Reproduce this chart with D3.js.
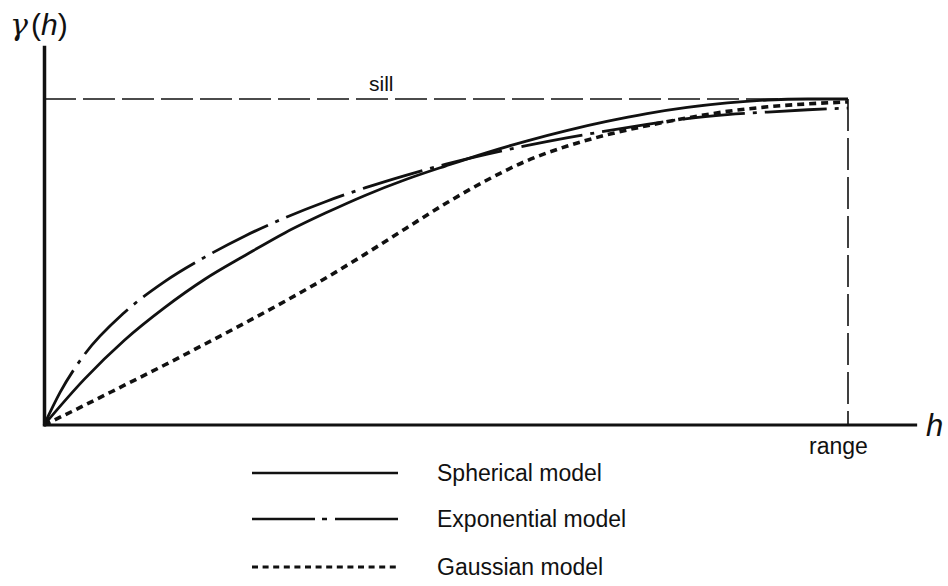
<!DOCTYPE html>
<html>
<head>
<meta charset="utf-8">
<script src="https://cdn.jsdelivr.net/npm/d3@7"></script>
<style>
  html, body { margin: 0; padding: 0; background: #fff; }
  svg { display: block; }
  text { font-family: "Liberation Sans", Arial, Helvetica, sans-serif; fill: #111; }
</style>
</head>
<body>
<svg id="chart" width="948" height="586"></svg>
<script>
// Lag distance h as a fraction of the range, semivariance as a fraction of the sill
const sphericalH = [0, 0.05, 0.10, 0.15, 0.20, 0.25, 0.30, 0.35, 0.40, 0.45, 0.50, 0.55, 0.60, 0.65, 0.70, 0.75, 0.80, 0.85, 0.90, 0.95, 1.0];
const sphericalG = [0, 0.14, 0.26, 0.36, 0.447, 0.52, 0.59, 0.65, 0.705, 0.753, 0.795, 0.835, 0.871, 0.903, 0.931, 0.955, 0.974, 0.988, 0.997, 1.0, 1.0];

const exponentialH = [0, 0.02, 0.05, 0.10, 0.15, 0.20, 0.25, 0.30, 0.35, 0.40, 0.45, 0.50, 0.55, 0.60, 0.65, 0.70, 0.75, 0.80, 0.85, 0.90, 0.95, 1.0];
const exponentialG = [0, 0.10, 0.215, 0.345, 0.44, 0.515, 0.58, 0.636, 0.685, 0.728, 0.766, 0.80, 0.83, 0.857, 0.881, 0.902, 0.922, 0.94, 0.952, 0.96, 0.967, 0.972];

const gaussianH = [0, 0.05, 0.10, 0.15, 0.20, 0.25, 0.30, 0.35, 0.40, 0.45, 0.50, 0.55, 0.60, 0.65, 0.70, 0.75, 0.80, 0.85, 0.90, 0.95, 1.0];
const gaussianG = [0, 0.06, 0.122, 0.184, 0.248, 0.313, 0.38, 0.45, 0.525, 0.603, 0.68, 0.75, 0.81, 0.855, 0.89, 0.918, 0.942, 0.962, 0.976, 0.985, 0.991];

const modelNames = ["Spherical model", "Exponential model", "Gaussian model"];
const axisLabels = { y: "\u03B3", x: "h", sill: "sill", range: "range" };

const svg = d3.select("#chart");

const x = d3.scaleLinear().domain([0, 1]).range([44, 848]);
const y = d3.scaleLinear().domain([0, 1]).range([425, 99]);

const styles = [
  { dash: null, width: 2.8 },
  { dash: "62,8,4,8", width: 2.8 },
  { dash: "7,5", width: 3.6 }
];

const series = [
  d3.zip(sphericalH, sphericalG),
  d3.zip(exponentialH, exponentialG),
  d3.zip(gaussianH, gaussianG)
];

const line = d3.line()
  .x(d => x(d[0]))
  .y(d => y(d[1]))
  .curve(d3.curveMonotoneX);

// Sill and range reference lines
svg.append("line")
  .attr("x1", x(0)).attr("x2", x(1))
  .attr("y1", y(1)).attr("y2", y(1))
  .attr("stroke", "#111").attr("stroke-width", 1.6)
  .attr("stroke-dasharray", "32,7");
svg.append("line")
  .attr("x1", x(1)).attr("x2", x(1))
  .attr("y1", y(1)).attr("y2", y(0))
  .attr("stroke", "#111").attr("stroke-width", 1.6)
  .attr("stroke-dasharray", "32,7");

// Model curves
series.forEach((pts, i) => {
  svg.append("path")
    .datum(pts)
    .attr("d", line)
    .attr("fill", "none")
    .attr("stroke", "#111")
    .attr("stroke-width", styles[i].width)
    .attr("stroke-dasharray", styles[i].dash)
    .attr("stroke-linecap", "butt");
});

// Axes
svg.append("line")
  .attr("x1", x(0)).attr("x2", x(1.086))
  .attr("y1", y(0)).attr("y2", y(0))
  .attr("stroke", "#111").attr("stroke-width", 3);
svg.append("line")
  .attr("x1", x(0) + 0.5).attr("x2", x(0) + 0.5)
  .attr("y1", y(0) + 1.5).attr("y2", y(1.163))
  .attr("stroke", "#111").attr("stroke-width", 3.5);

// Axis labels
const yl = svg.append("text")
  .attr("x", 10).attr("y", 35)
  .style("font-size", "30px");
yl.append("tspan").text(axisLabels.y).style("font-family", "'DejaVu Serif', serif").style("font-style", "italic");
yl.append("tspan").text("(").attr("dx", 3);
yl.append("tspan").text(axisLabels.x).style("font-style", "italic");
yl.append("tspan").text(")");

svg.append("text")
  .attr("x", 926).attr("y", 436)
  .style("font-size", "31px").style("font-style", "italic")
  .text(axisLabels.x);

svg.append("text")
  .attr("x", x(1) - 39).attr("y", 454)
  .style("font-size", "23px")
  .text(axisLabels.range);

svg.append("text")
  .attr("x", 369).attr("y", 91)
  .style("font-size", "21px")
  .text(axisLabels.sill);

// Legend
const legendY = [473, 519, 567];
modelNames.forEach((name, i) => {
  svg.append("line")
    .attr("x1", 252).attr("x2", 398)
    .attr("y1", legendY[i]).attr("y2", legendY[i])
    .attr("stroke", "#111")
    .attr("stroke-width", i === 2 ? 3 : 2.6)
    .attr("stroke-dasharray", i === 1 ? "63,7,5,8" : (i === 2 ? "6,4.6" : null));
  svg.append("text")
    .attr("x", 437).attr("y", legendY[i] + 8)
    .style("font-size", "23px")
    .text(name);
});
</script>
</body>
</html>
